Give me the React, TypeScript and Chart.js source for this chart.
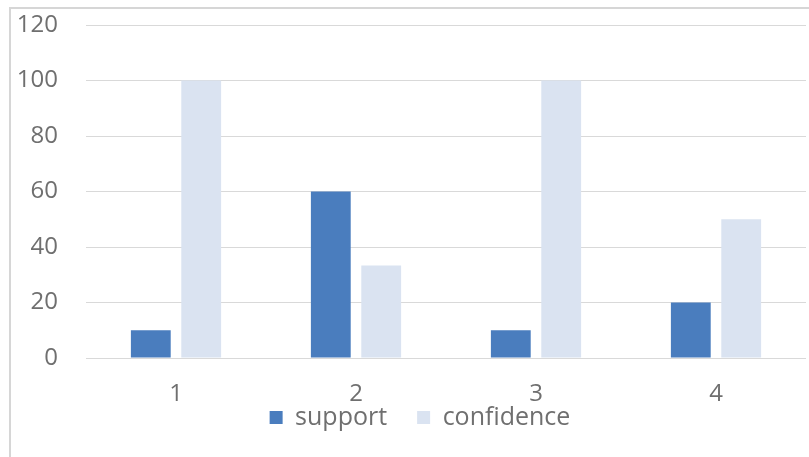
import React, { useEffect, useRef } from "react";
import { Chart, registerables } from "chart.js";

Chart.register(...registerables);

const categories = ["1", "2", "3", "4"];
const supportValues = [10, 60, 10, 20];
const confidenceValues = [100, 33.33, 100, 50];

const SUPPORT_COLOR = "#4A7DBE";
const CONFIDENCE_COLOR = "#DAE3F1";
const TEXT_COLOR = "#6f6f6f";
const TICK_FONT = { family: "'Open Sans', sans-serif", size: 24 };
const LEGEND_FONT = { family: "'Open Sans', sans-serif", size: 25 };

// Light frame along the left and top edges of the chart
const framePlugin = {
  id: "frame",
  beforeDraw(chart: Chart) {
    const { ctx, width, height } = chart;
    ctx.save();
    ctx.fillStyle = "#ffffff";
    ctx.fillRect(0, 0, width, height);
    ctx.strokeStyle = "#d6d6d6";
    ctx.lineWidth = 2;
    ctx.strokeRect(10, 8, width + 20, height + 20);
    ctx.restore();
  },
};

// Tuck the legend up under the category labels and let those labels use the space below the axis
const legendPlacement = {
  id: "legendPlacement",
  afterLayout(chart: any) {
    const area = chart.chartArea;
    const xScale = chart.scales.x;
    xScale.bottom = chart.height;
    const legend = chart.legend;
    if (legend) {
      const top = area.bottom + 17;
      const dy = top - legend.top;
      legend.top += dy;
      legend.bottom += dy;
      legend.left += 12;
      legend.right += 12;
    }
  },
};

export default function App() {
  const canvasRef = useRef<HTMLCanvasElement | null>(null);

  useEffect(() => {
    if (!canvasRef.current) return;
    const chart = new Chart(canvasRef.current, {
      type: "bar",
      data: {
        labels: categories,
        datasets: [
          {
            label: "support",
            data: supportValues,
            backgroundColor: SUPPORT_COLOR,
            barPercentage: 0.79,
            categoryPercentage: 0.56,
          },
          {
            label: "confidence",
            data: confidenceValues,
            backgroundColor: CONFIDENCE_COLOR,
            barPercentage: 0.79,
            categoryPercentage: 0.56,
          },
        ],
      },
      options: {
        responsive: false,
        animation: false,
        layout: { padding: { left: 10, right: 3, top: 25, bottom: 0 } },
        plugins: {
          tooltip: { enabled: false },
          legend: {
            position: "bottom",
            labels: {
              boxWidth: 13,
              boxHeight: 13,
              padding: 30,
              color: TEXT_COLOR,
              font: LEGEND_FONT,
            },
          },
        },
        scales: {
          x: {
            grid: { display: false, drawTicks: false },
            border: { display: false },
            ticks: { color: TEXT_COLOR, font: TICK_FONT, padding: 22 },
            afterFit: (scale: any) => {
              scale.height = 34;
            },
          },
          y: {
            min: 0,
            max: 120,
            grid: { color: "#d9d9d9", lineWidth: 1, drawTicks: false },
            border: { display: false },
            ticks: { stepSize: 20, color: TEXT_COLOR, font: TICK_FONT, padding: 28 },
            afterFit: (scale: any) => {
              scale.width = 76;
              scale.paddingTop = 0;
              scale.paddingBottom = 0;
            },
          },
        },
      },
      plugins: [framePlugin, legendPlacement],
    });
    return () => chart.destroy();
  }, []);

  return (
    <div style={{ position: "fixed", left: 0, top: 0, width: 809, height: 457, background: "#fff" }}>
      <canvas ref={canvasRef} width={809} height={457} style={{ display: "block" }} />
    </div>
  );
}
